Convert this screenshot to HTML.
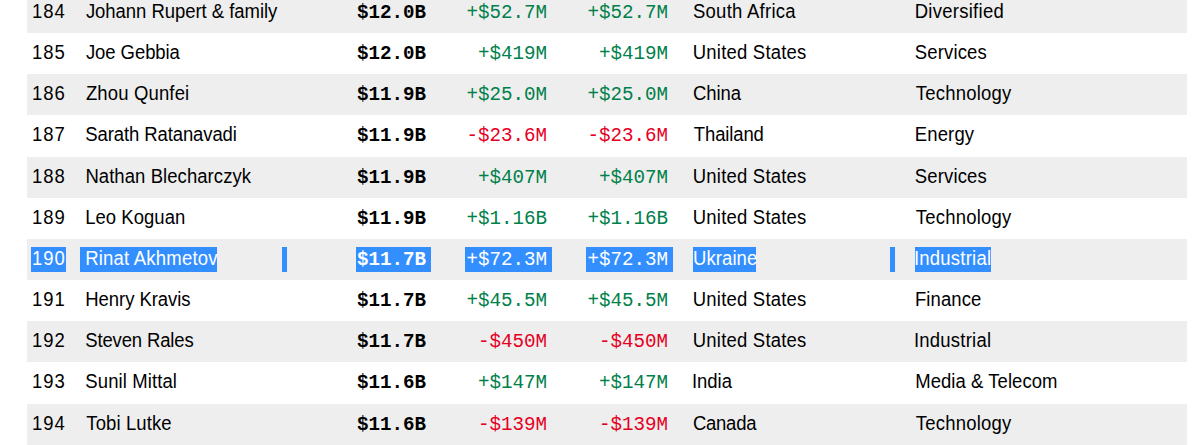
<!DOCTYPE html><html><head><meta charset="utf-8"><style>
*{margin:0;padding:0;box-sizing:border-box}
html,body{width:1192px;height:445px;overflow:hidden;background:#fff}
body{position:relative;font-family:"Liberation Sans",sans-serif;color:#000}
.r{position:absolute;left:0;width:1192px}
.g{position:absolute;background:#eeeeee;left:27px;width:1160px}
.c{position:absolute;top:0;height:41px;line-height:41px;white-space:nowrap;font-size:18.5px;transform:translateY(-1.8px) scaleY(1.08)}
.k{letter-spacing:1px}
.m{font-family:"Liberation Mono",monospace;font-size:19.2px;text-align:right;transform:translateY(1px) scaleY(1.10)}
.b{font-weight:bold}
.up{color:#00804a}
.dn{color:#e6001f}
.sel{position:absolute;background:#338fff;height:25px}
.w{color:#fff}
</style></head><body>
<div class="g" style="top:-8px;height:41px"></div>
<div class="g" style="top:74px;height:41px"></div>
<div class="g" style="top:157px;height:41px"></div>
<div class="g" style="top:239px;height:41px"></div>
<div class="g" style="top:321px;height:41px"></div>
<div class="g" style="top:404px;height:41px"></div>
<div class="sel" style="left:31px;width:35px;top:247px"></div>
<div class="sel" style="left:80px;width:137px;top:247px"></div>
<div class="sel" style="left:282px;width:5px;top:247px"></div>
<div class="sel" style="left:356px;width:75px;top:247px"></div>
<div class="sel" style="left:465px;width:87px;top:247px"></div>
<div class="sel" style="left:586px;width:87px;top:247px"></div>
<div class="sel" style="left:693px;width:63px;top:247px"></div>
<div class="sel" style="left:890px;width:5px;top:247px"></div>
<div class="sel" style="left:915px;width:76px;top:247px"></div>
<div class="r" style="top:-8px">
<div class="c k" style="left:32.00px">184</div>
<div class="c" style="left:85.90px;letter-spacing:-0.043px">Johann Rupert &amp; family</div>
<div class="c m b" style="right:766px">$12.0B</div>
<div class="c m up" style="right:645px">+$52.7M</div>
<div class="c m up" style="right:524px">+$52.7M</div>
<div class="c" style="left:692.90px;letter-spacing:0.273px">South Africa</div>
<div class="c" style="left:914.70px;letter-spacing:0.270px">Diversified</div>
</div>
<div class="r" style="top:33px">
<div class="c k" style="left:32.00px">185</div>
<div class="c" style="left:85.90px;letter-spacing:-0.067px">Joe Gebbia</div>
<div class="c m b" style="right:766px">$12.0B</div>
<div class="c m up" style="right:645px">+$419M</div>
<div class="c m up" style="right:524px">+$419M</div>
<div class="c" style="left:692.80px;letter-spacing:0.208px">United States</div>
<div class="c" style="left:914.70px;letter-spacing:0.171px">Services</div>
</div>
<div class="r" style="top:74px">
<div class="c k" style="left:32.00px">186</div>
<div class="c" style="left:85.90px;letter-spacing:0.150px">Zhou Qunfei</div>
<div class="c m b" style="right:766px">$11.9B</div>
<div class="c m up" style="right:645px">+$25.0M</div>
<div class="c m up" style="right:524px">+$25.0M</div>
<div class="c" style="left:692.90px;letter-spacing:-0.075px">China</div>
<div class="c" style="left:915.70px;letter-spacing:0.222px">Technology</div>
</div>
<div class="r" style="top:115px">
<div class="c k" style="left:32.00px">187</div>
<div class="c" style="left:85.20px;letter-spacing:-0.094px">Sarath Ratanavadi</div>
<div class="c m b" style="right:766px">$11.9B</div>
<div class="c m dn" style="right:645px">-$23.6M</div>
<div class="c m dn" style="right:524px">-$23.6M</div>
<div class="c" style="left:693.80px;letter-spacing:-0.129px">Thailand</div>
<div class="c" style="left:914.70px;letter-spacing:0.160px">Energy</div>
</div>
<div class="r" style="top:157px">
<div class="c k" style="left:32.00px">188</div>
<div class="c" style="left:85.40px;letter-spacing:0.065px">Nathan Blecharczyk</div>
<div class="c m b" style="right:766px">$11.9B</div>
<div class="c m up" style="right:645px">+$407M</div>
<div class="c m up" style="right:524px">+$407M</div>
<div class="c" style="left:692.80px;letter-spacing:0.208px">United States</div>
<div class="c" style="left:914.70px;letter-spacing:0.171px">Services</div>
</div>
<div class="r" style="top:198px">
<div class="c k" style="left:32.00px">189</div>
<div class="c" style="left:85.20px;letter-spacing:0.033px">Leo Koguan</div>
<div class="c m b" style="right:766px">$11.9B</div>
<div class="c m up" style="right:645px">+$1.16B</div>
<div class="c m up" style="right:524px">+$1.16B</div>
<div class="c" style="left:692.80px;letter-spacing:0.208px">United States</div>
<div class="c" style="left:915.70px;letter-spacing:0.222px">Technology</div>
</div>
<div class="r" style="top:239px">
<div class="c k w" style="left:32.00px">190</div>
<div class="c w" style="left:85.20px;letter-spacing:0.215px">Rinat Akhmetov</div>
<div class="c m b w" style="right:766px">$11.7B</div>
<div class="c m w" style="right:645px">+$72.3M</div>
<div class="c m w" style="right:524px">+$72.3M</div>
<div class="c w" style="left:693.00px;letter-spacing:0.083px">Ukraine</div>
<div class="c w" style="left:913.90px;letter-spacing:0.233px">Industrial</div>
</div>
<div class="r" style="top:280px">
<div class="c k" style="left:32.00px">191</div>
<div class="c" style="left:85.30px;letter-spacing:-0.064px">Henry Kravis</div>
<div class="c m b" style="right:766px">$11.7B</div>
<div class="c m up" style="right:645px">+$45.5M</div>
<div class="c m up" style="right:524px">+$45.5M</div>
<div class="c" style="left:692.80px;letter-spacing:0.208px">United States</div>
<div class="c" style="left:914.90px;letter-spacing:0.100px">Finance</div>
</div>
<div class="r" style="top:321px">
<div class="c k" style="left:32.00px">192</div>
<div class="c" style="left:85.30px;letter-spacing:-0.155px">Steven Rales</div>
<div class="c m b" style="right:766px">$11.7B</div>
<div class="c m dn" style="right:645px">-$450M</div>
<div class="c m dn" style="right:524px">-$450M</div>
<div class="c" style="left:692.80px;letter-spacing:0.208px">United States</div>
<div class="c" style="left:913.90px;letter-spacing:0.233px">Industrial</div>
</div>
<div class="r" style="top:362px">
<div class="c k" style="left:32.00px">193</div>
<div class="c" style="left:85.30px;letter-spacing:0.109px">Sunil Mittal</div>
<div class="c m b" style="right:766px">$11.6B</div>
<div class="c m up" style="right:645px">+$147M</div>
<div class="c m up" style="right:524px">+$147M</div>
<div class="c" style="left:691.90px;letter-spacing:0.000px">India</div>
<div class="c" style="left:915.20px;letter-spacing:0.050px">Media &amp; Telecom</div>
</div>
<div class="r" style="top:404px">
<div class="c k" style="left:32.00px">194</div>
<div class="c" style="left:86.30px;letter-spacing:0.111px">Tobi Lutke</div>
<div class="c m b" style="right:766px">$11.6B</div>
<div class="c m dn" style="right:645px">-$139M</div>
<div class="c m dn" style="right:524px">-$139M</div>
<div class="c" style="left:692.90px;letter-spacing:-0.240px">Canada</div>
<div class="c" style="left:915.70px;letter-spacing:0.222px">Technology</div>
</div>
</body></html>
